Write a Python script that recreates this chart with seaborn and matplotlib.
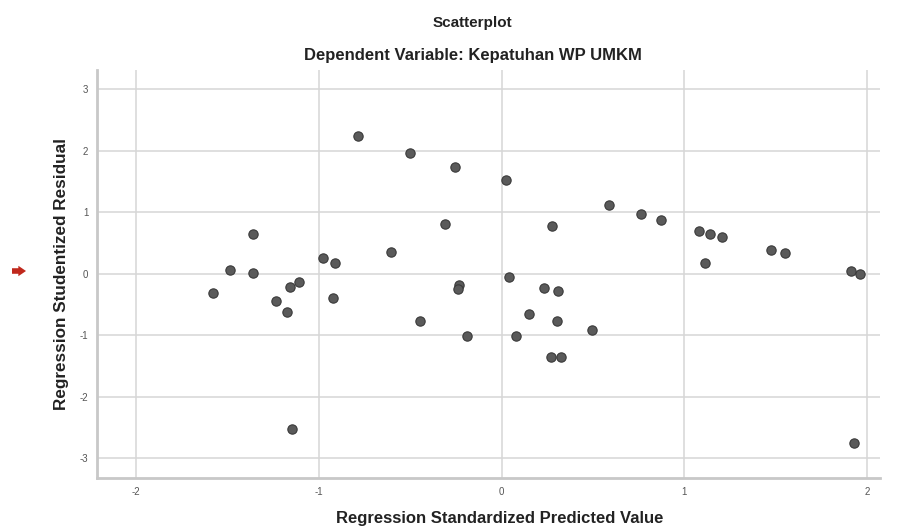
import numpy as np
import pandas as pd
import seaborn as sns
import matplotlib.pyplot as plt

# standardized predicted value vs studentized residual
pred = [-1.578, -1.487, -1.359, -1.359, -1.235, -1.176, -1.158, -1.107, -0.980, -0.914,
        -0.921, -1.146, -0.785, -0.502, -0.256, -0.309, -0.604, -0.232, -0.237, -0.449,
        -0.190, 0.022, 0.587, 0.761, 0.274, 0.042, 0.231, 0.310, 0.151, 0.303,
        0.494, 0.078, 0.270, 0.324, 0.870, 1.083, 1.140, 1.207, 1.112, 1.477,
        1.549, 1.915, 1.961, 1.928]
resid = [-0.309, 0.054, 0.639, 0.010, -0.445, -0.618, -0.211, -0.130, 0.254, 0.179,
         -0.397, -2.532, 2.233, 1.967, 1.734, 0.813, 0.358, -0.190, -0.244, -0.776,
         -1.020, 1.528, 1.122, 0.969, 0.769, -0.049, -0.228, -0.288, -0.662, -0.771,
         -0.922, -1.014, -1.361, -1.361, 0.867, 0.699, 0.650, 0.590, 0.172, 0.379,
         0.341, 0.037, 0.000, -2.754]
xticks = [-2, -1, 0, 1, 2]
yticks = [-3, -2, -1, 0, 1, 2, 3]

df = pd.DataFrame({"pred": pred, "resid": resid})

sns.set_style("white")
plt.rcParams['font.family'] = ['Liberation Sans', 'DejaVu Sans']
plt.rcParams['axes.unicode_minus'] = False

fig = plt.figure(figsize=(8.97, 5.32), dpi=100)
ax = fig.add_axes([0.1078, 0.101, 0.873, 0.767])

sns.scatterplot(data=df, x="pred", y="resid", ax=ax, s=45,
                color="#5a5a5a", edgecolor="#3a3a3a", linewidth=0.8, zorder=3)

ax.set_xlim(-2.216, 2.07)
ax.set_ylim(-3.33, 3.31)
ax.set_xticks(xticks)
ax.set_yticks(yticks)
ax.grid(True, color="#d6d6d6", linewidth=1.1)
ax.tick_params(length=0, labelsize=7, colors="#555555", pad=6)

for side in ["top", "right"]:
    ax.spines[side].set_visible(False)
for side in ["left", "bottom"]:
    ax.spines[side].set_color("#c8c8c8")
    ax.spines[side].set_linewidth(2)

ax.set_xlabel("Regression Standardized Predicted Value", fontsize=12,
              fontweight="bold", color="#222222")
ax.xaxis.set_label_coords(0.515, -0.08)
ax.set_ylabel("Regression Studentized Residual", fontsize=12.3,
              fontweight="bold", color="#222222", labelpad=8)

fig.text(0.527, 0.957, "Scatterplot", ha="center", va="center",
         fontsize=11, fontweight="bold", color="#222222")
fig.text(0.527, 0.896, "Dependent Variable: Kepatuhan WP UMKM", ha="center",
         va="center", fontsize=12, fontweight="bold", color="#222222")

# small red marker arrow on the left edge
ax.annotate("", xy=(26, 532 - 271), xytext=(12, 532 - 271),
            xycoords="figure pixels", textcoords="figure pixels",
            arrowprops=dict(arrowstyle="simple,head_width=0.75,head_length=0.55,tail_width=0.4",
                            color="#c0281c", lw=0, shrinkA=0, shrinkB=0))

fig.savefig("out.png", dpi=100)
